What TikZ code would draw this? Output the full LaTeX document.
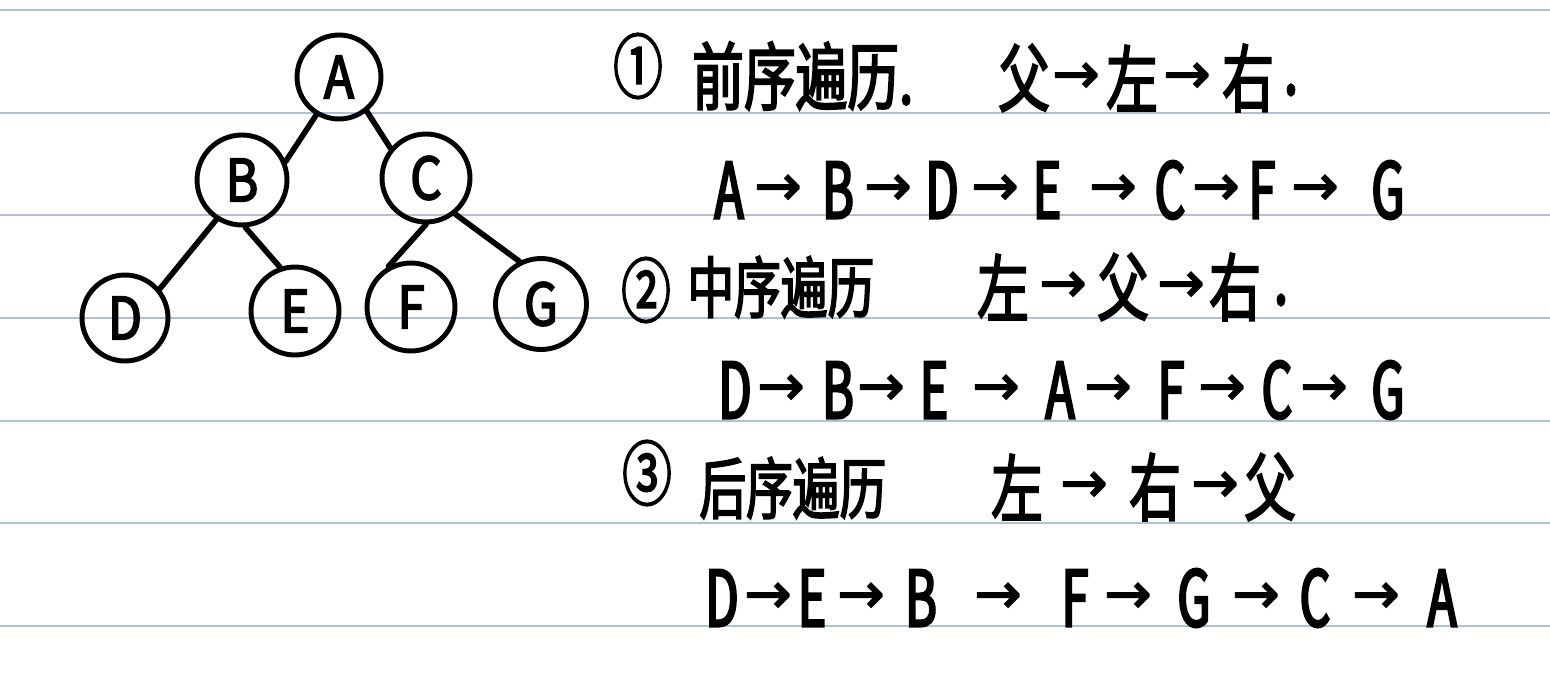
\documentclass[tikz,border=0pt]{standalone}
\usepackage{fontspec}
\newfontfamily\cjk[FakeStretch=0.7,FakeBold=2.5]{Noto Sans CJK SC}
\newfontfamily\latn[FakeStretch=0.62,FakeBold=3]{Noto Sans CJK SC}
\newfontfamily\tl[FakeStretch=0.85,FakeBold=3]{Noto Sans CJK SC}
\newfontfamily\arr[FakeBold=2.5]{DejaVu Sans}
\definecolor{rulec}{HTML}{B0C0D8}
\begin{document}
\begin{tikzpicture}[x=0.02cm,y=-0.02cm,
  ruled/.style={draw=rulec, line width=1.1pt},
  tnode/.style={circle, draw, line width=2.8pt, inner sep=0pt, font=\tl\fontsize{33}{33}\selectfont},
  edge/.style={line width=3.2pt, line cap=round},
  letr/.style={inner sep=0pt, font=\latn\fontsize{44}{44}\selectfont},
  arro/.style={inner sep=0pt, font=\arr\fontsize{32}{32}\selectfont},
  hz/.style={inner sep=0pt, font=\cjk\fontsize{42}{42}\selectfont},
  hzs/.style={inner sep=0pt, font=\cjk\fontsize{38}{38}\selectfont},
  num/.style={inner sep=0pt, font=\cjk\fontsize{40}{40}\selectfont}]
\fill[white] (0,0) rectangle (1550,676);
\useasboundingbox (0,0) rectangle (1550,676);
% ruled lines
\foreach \k in {0,...,6}
  \draw[ruled] (0,{10+102.67*\k}) -- (1550,{10+102.67*\k});
% tree
\node[tnode, minimum size=1.68cm] (A) at (339,77) {A};
\node[tnode, minimum size=1.80cm] (B) at (242,180) {B};
\node[tnode, minimum size=1.76cm] (C) at (426,178) {C};
\node[tnode, minimum size=1.72cm] (D) at (125,318) {D};
\node[tnode, minimum size=1.76cm] (E) at (295,311) {E};
\node[tnode, minimum size=1.76cm] (F) at (411,307) {F};
\node[tnode, minimum size=1.82cm] (G) at (541,304) {G};
\draw[edge] (A.239) -- (B.23);
\draw[edge] (A.309) -- (C.140);
\draw[edge] (B.237) -- (D.40);
\draw[edge] (B.274) -- (E.109);
\draw[edge] (C.270) -- (F.119);
\draw[edge] (C.309) -- (G.117);
% row 1
\node[num] (n1) at (638,66) {①};
\node[hz, anchor=west] (t1) at (692,76) {前序遍历.};
\foreach \t/\x/\s [count=\i] in {父/1024/hz, →/1076/arro, 左/1132/hz, →/1187/arro, 右/1248/hz}
  \node[\s] (ra-\i) at (\x,78) {\t};
\node[letr] (ra-dot) at (1291,90) {.};
% row 2
\foreach \t/\x/\s [count=\i] in {A/729/letr, →/778/arro, B/838/letr, →/888/arro, D/942/letr, →/995/arro, E/1047/letr, →/1113/arro, C/1170/letr, →/1216/arro, F/1262/letr, →/1315/arro, G/1388/letr}
  \node[\s] (rb-\i) at (\x,190) {\t};
% row 3
\node[num] (n2) at (646,290) {②};
\node[hzs, anchor=west] (t2) at (687,287) {中序遍历};
\foreach \t/\x/\s [count=\i] in {左/1003/hz, →/1063/arro, 父/1123/hz, →/1181/arro, 右/1235/hz}
  \node[\s] (rc-\i) at (\x,287) {\t};
\node[letr] (rc-dot) at (1281,300) {.};
% row 4
\foreach \t/\x/\s [count=\i] in {D/735/letr, →/781/arro, B/838/letr, →/881/arro, E/934/letr, →/996/arro, A/1060/letr, →/1108/arro, F/1171/letr, →/1222/arro, C/1277/letr, →/1324/arro, G/1388/letr}
  \node[\s] (rd-\i) at (\x,390) {\t};
% row 5
\node[num] (n3) at (647,473) {③};
\node[hzs, anchor=west] (t3) at (699,488) {后序遍历};
\foreach \t/\x/\s [count=\i] in {左/1017/hz, →/1084/arro, 右/1155/hz, →/1215/arro, 父/1270/hz}
  \node[\s] (re-\i) at (\x,487) {\t};
% row 6
\foreach \t/\x/\s [count=\i] in {D/722/letr, →/768/arro, E/812/letr, →/861/arro, B/921/letr, →/998/arro, F/1075/letr, →/1128/arro, G/1194/letr, →/1256/arro, C/1315/letr, →/1376/arro, A/1442/letr}
  \node[\s] (rf-\i) at (\x,598) {\t};
\end{tikzpicture}
\end{document}
